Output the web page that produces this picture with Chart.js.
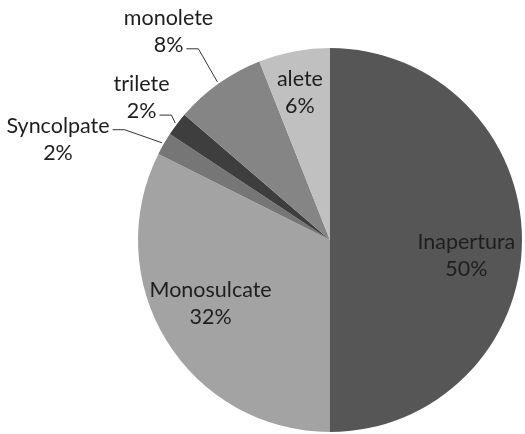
<!DOCTYPE html>
<html>
<head>
<meta charset="utf-8">
<script src="https://cdn.jsdelivr.net/npm/chart.js@4.4.1/dist/chart.umd.min.js"></script>
<style>
  html, body { margin: 0; padding: 0; background: #fff; }
  #wrap { width: 525px; height: 434px; position: relative; }
</style>
</head>
<body>
<div id="wrap"><canvas id="pie"></canvas></div>
<script>
// Tipos de abertura (pólen / esporos)
const categories = ['Inapertura', 'Monosulcate', 'Syncolpate', 'trilete', 'monolete', 'alete'];
const shares     = [50, 32.4, 1.9, 2.0, 7.7, 6.0];

const COLORS = ['#565656', '#a3a3a3', '#767676', '#3e3e3e', '#858585', '#c0c0c0'];

// posição dos rótulos: k = fração do raio ao longo do ângulo médio, nudge em px
const LABEL_PLACE = [
  { inside: true,  k: 0.71, dx: 0,   dy: 16 },
  { inside: true,  k: 0.70, dx: -5,  dy: -7 },
  { inside: false, k: 1.36, dx: -46, dy: 30 },
  { inside: false, k: 1.23, dx: 0,   dy: 0 },
  { inside: false, k: 1.36, dx: -10, dy: 4 },
  { inside: true,  k: 0.78, dx: -2,  dy: 0 },
];

const FONT = '21.5px "Lato", "Liberation Sans", sans-serif';
const LINE_H = 27;

const pctLabel = v => Math.round(v) + '%';

// Rótulos com linhas de chamada, no estilo do Excel
const labelPlugin = {
  id: 'pieLabels',
  afterDatasetsDraw(chart) {
    const ctx = chart.ctx;
    const meta = chart.getDatasetMeta(0);
    ctx.save();
    ctx.font = FONT;
    ctx.fillStyle = '#1e1e1e';
    ctx.textAlign = 'center';
    ctx.textBaseline = 'middle';
    meta.data.forEach((arc, i) => {
      const { x: cx, y: cy, startAngle, endAngle, outerRadius } = arc.getProps(['x', 'y', 'startAngle', 'endAngle', 'outerRadius'], true);
      const mid = (startAngle + endAngle) / 2;
      const p = LABEL_PLACE[i];
      const lx = cx + Math.cos(mid) * outerRadius * p.k + p.dx;
      const ly = cy + Math.sin(mid) * outerRadius * p.k + p.dy;
      const lines = [categories[i], pctLabel(shares[i])];
      const y0 = ly - LINE_H / 2;
      lines.forEach((t, j) => ctx.fillText(t, lx, y0 + j * LINE_H));

      if (!p.inside) {
        const ex = cx + Math.cos(mid) * (outerRadius + 2);
        const ey = cy + Math.sin(mid) * (outerRadius + 2);
        // escolhe a linha de texto que dá a chamada mais curta
        let best = null;
        lines.forEach((t, j) => {
          const rx = lx + ctx.measureText(t).width / 2 + 3;
          const ry = y0 + j * LINE_H + 4;
          const d = Math.hypot(ex - rx - 12, ey - ry);
          if (!best || d < best.d) best = { rx, ry, d };
        });
        ctx.strokeStyle = '#333';
        ctx.lineWidth = 1;
        ctx.beginPath();
        ctx.moveTo(best.rx, best.ry);
        ctx.lineTo(best.rx + 12, best.ry);
        ctx.lineTo(ex, ey);
        ctx.stroke();
      }
    });
    ctx.restore();
  },
};

new Chart(document.getElementById('pie').getContext('2d'), {
  type: 'pie',
  data: {
    labels: categories,
    datasets: [{
      data: shares,
      backgroundColor: COLORS,
      borderWidth: 0,
    }],
  },
  options: {
    responsive: true,
    maintainAspectRatio: false,
    animation: false,
    layout: { padding: { left: 138, right: 3, top: 48, bottom: 2 } },
    plugins: {
      legend: { display: false },
      tooltip: { enabled: false },
    },
  },
  plugins: [labelPlugin],
});
</script>
</body>
</html>
